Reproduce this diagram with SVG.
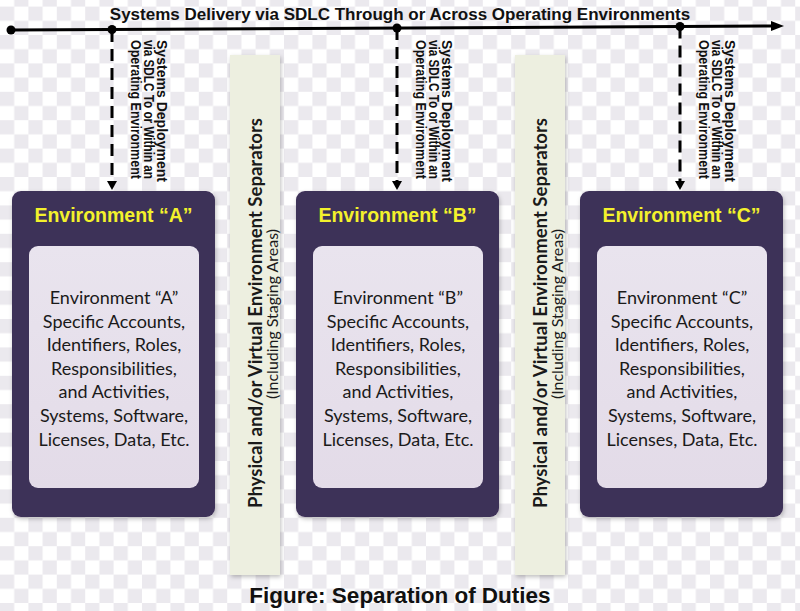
<svg xmlns="http://www.w3.org/2000/svg" width="800" height="611" viewBox="0 0 800 611">
<defs>
<pattern id="chk" x="0" y="6.6" width="28.4" height="28.4" patternUnits="userSpaceOnUse">
<rect x="0" y="0" width="14.2" height="14.2" fill="#ebe9ee"/>
<rect x="14.2" y="14.2" width="14.2" height="14.2" fill="#ebe9ee"/>
</pattern>
<filter id="sh" x="-10%" y="-10%" width="120%" height="120%">
<feDropShadow dx="1" dy="2" stdDeviation="2" flood-color="#000" flood-opacity="0.25"/>
</filter>
<linearGradient id="inner" x1="0" y1="0" x2="0" y2="1">
<stop offset="0" stop-color="#e9e4ee"/>
<stop offset="1" stop-color="#e3dbe8"/>
</linearGradient>
</defs>
<style>
.title{font-family:"Liberation Sans",Arial,sans-serif;font-weight:bold;fill:#111;}
.dep{font-family:"Liberation Sans",Arial,sans-serif;font-weight:bold;font-size:14px;fill:#111;}
.env{fill:#3e3058;}
.inner{fill:url(#inner);}
.hdr{font-family:"Liberation Sans",Arial,sans-serif;font-weight:bold;font-size:19.5px;fill:#f3f12c;text-anchor:middle;}
.body{font-family:Lato,"Open Sans",sans-serif;font-size:18px;fill:#1a1a1a;text-anchor:middle;}
.sep{fill:#edefe0;}
.sept{font-family:Lato,"Open Sans",sans-serif;font-weight:bold;font-size:18.5px;fill:#1a1a1a;text-anchor:middle;}
.sept2{font-family:Lato,"Open Sans",sans-serif;font-size:16px;fill:#1a1a1a;text-anchor:middle;}
.dash{stroke:#000;stroke-width:3;stroke-dasharray:12 7;fill:none;}
.dot{fill:#000;}
</style>
<rect width="800" height="611" fill="#ffffff"/>
<rect width="800" height="611" fill="url(#chk)"/>

<g id="title">
<text class="title" x="400" y="19.5" font-size="17" text-anchor="middle">Systems Delivery via SDLC Through or Across Operating Environments</text>
</g>

<g id="connectors">
<line x1="11" y1="30" x2="774" y2="26" stroke="#000" stroke-width="3"/>
<polygon points="771,21 784,26 771,31" fill="#000"/>
<circle class="dot" cx="11" cy="30" r="4.5"/>
<circle class="dot" cx="112" cy="29.5" r="4.5"/>
<circle class="dot" cx="397" cy="28" r="4.5"/>
<circle class="dot" cx="680" cy="26.5" r="4.5"/>
<line class="dash" x1="112" y1="30" x2="112" y2="183"/>
<polygon points="107,181 117,181 112,190" fill="#000"/>
<line class="dash" x1="397" y1="28" x2="397" y2="183"/>
<polygon points="392,181 402,181 397,190" fill="#000"/>
<line class="dash" x1="680" y1="26.5" x2="680" y2="183"/>
<polygon points="675,181 685,181 680,190" fill="#000"/>
</g>

<g id="deploy-a">
<text class="dep" transform="translate(157,40) rotate(90)" textLength="142" lengthAdjust="spacingAndGlyphs">Systems Deployment</text>
<text class="dep" transform="translate(144,40) rotate(90)" textLength="139" lengthAdjust="spacingAndGlyphs">via SDLC To or Within an</text>
<text class="dep" transform="translate(131,40) rotate(90)" textLength="139" lengthAdjust="spacingAndGlyphs">Operating Environment</text>
</g>
<g id="deploy-b">
<text class="dep" transform="translate(442,40) rotate(90)" textLength="142" lengthAdjust="spacingAndGlyphs">Systems Deployment</text>
<text class="dep" transform="translate(429,40) rotate(90)" textLength="139" lengthAdjust="spacingAndGlyphs">via SDLC To or Within an</text>
<text class="dep" transform="translate(416,40) rotate(90)" textLength="139" lengthAdjust="spacingAndGlyphs">Operating Environment</text>
</g>
<g id="deploy-c">
<text class="dep" transform="translate(725,40) rotate(90)" textLength="142" lengthAdjust="spacingAndGlyphs">Systems Deployment</text>
<text class="dep" transform="translate(712,40) rotate(90)" textLength="139" lengthAdjust="spacingAndGlyphs">via SDLC To or Within an</text>
<text class="dep" transform="translate(699,40) rotate(90)" textLength="139" lengthAdjust="spacingAndGlyphs">Operating Environment</text>
</g>

<g id="env-a">
<rect class="env" x="12" y="191" width="203" height="326" rx="9" filter="url(#sh)"/>
<text class="hdr" x="113.5" y="222">Environment “A”</text>
<rect class="inner" x="29" y="246" width="170" height="242" rx="9"/>
<text class="body" x="114" y="304">Environment “A”</text>
<text class="body" x="114" y="327.5">Specific Accounts,</text>
<text class="body" x="114" y="351">Identifiers, Roles,</text>
<text class="body" x="114" y="374.5">Responsibilities,</text>
<text class="body" x="114" y="398">and Activities,</text>
<text class="body" x="114" y="422">Systems, Software,</text>
<text class="body" x="114" y="446">Licenses, Data, Etc.</text>
</g>

<g id="env-b">
<rect class="env" x="296" y="191" width="203" height="326" rx="9" filter="url(#sh)"/>
<text class="hdr" x="397.5" y="222">Environment “B”</text>
<rect class="inner" x="313" y="246" width="170" height="242" rx="9"/>
<text class="body" x="398" y="304">Environment “B”</text>
<text class="body" x="398" y="327.5">Specific Accounts,</text>
<text class="body" x="398" y="351">Identifiers, Roles,</text>
<text class="body" x="398" y="374.5">Responsibilities,</text>
<text class="body" x="398" y="398">and Activities,</text>
<text class="body" x="398" y="422">Systems, Software,</text>
<text class="body" x="398" y="446">Licenses, Data, Etc.</text>
</g>

<g id="env-c">
<rect class="env" x="580" y="191" width="203" height="326" rx="9" filter="url(#sh)"/>
<text class="hdr" x="681.5" y="222">Environment “C”</text>
<rect class="inner" x="597" y="246" width="170" height="242" rx="9"/>
<text class="body" x="682" y="304">Environment “C”</text>
<text class="body" x="682" y="327.5">Specific Accounts,</text>
<text class="body" x="682" y="351">Identifiers, Roles,</text>
<text class="body" x="682" y="374.5">Responsibilities,</text>
<text class="body" x="682" y="398">and Activities,</text>
<text class="body" x="682" y="422">Systems, Software,</text>
<text class="body" x="682" y="446">Licenses, Data, Etc.</text>
</g>

<g id="separator-1">
<rect class="sep" x="230" y="55" width="50" height="520" filter="url(#sh)"/>
<text class="sept" transform="translate(262,313) rotate(-90)" textLength="390" lengthAdjust="spacingAndGlyphs">Physical and/or Virtual Environment Separators</text>
<text class="sept2" transform="translate(278,314) rotate(-90)" textLength="170" lengthAdjust="spacingAndGlyphs">(Including Staging Areas)</text>
</g>
<g id="separator-2">
<rect class="sep" x="515" y="55" width="50" height="520" filter="url(#sh)"/>
<text class="sept" transform="translate(547,313) rotate(-90)" textLength="390" lengthAdjust="spacingAndGlyphs">Physical and/or Virtual Environment Separators</text>
<text class="sept2" transform="translate(563,314) rotate(-90)" textLength="170" lengthAdjust="spacingAndGlyphs">(Including Staging Areas)</text>
</g>

<g id="caption">
<text class="title" x="400" y="603" font-size="22.5" text-anchor="middle">Figure: Separation of Duties</text>
</g>
</svg>
